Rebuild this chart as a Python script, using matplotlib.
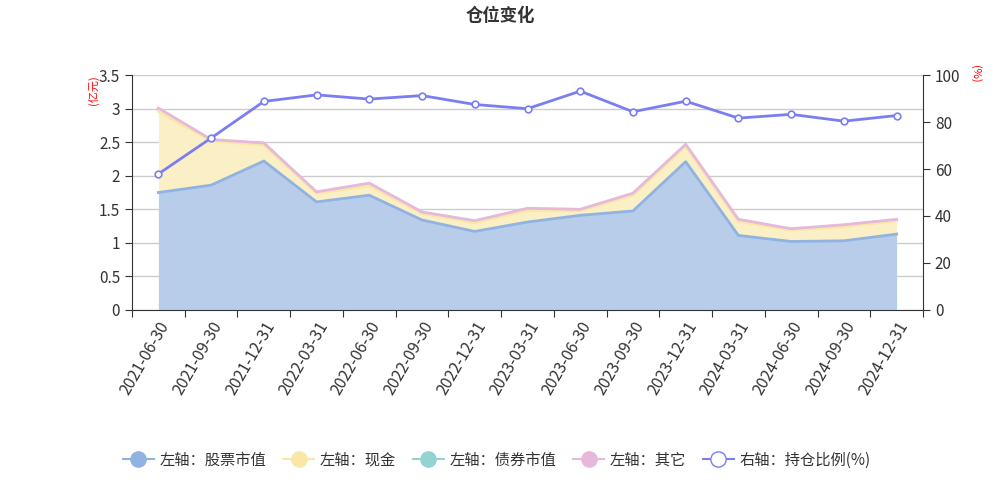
import matplotlib
matplotlib.use("Agg")
import matplotlib.pyplot as plt
from matplotlib.lines import Line2D
import numpy as np

plt.rcParams['font.family'] = ['Noto Sans CJK SC', 'DejaVu Sans']

dates = ["2021-06-30", "2021-09-30", "2021-12-31", "2022-03-31", "2022-06-30",
         "2022-09-30", "2022-12-31", "2023-03-31", "2023-06-30", "2023-09-30",
         "2023-12-31", "2024-03-31", "2024-06-30", "2024-09-30", "2024-12-31"]
stock = [1.75, 1.86, 2.22, 1.61, 1.71, 1.34, 1.17, 1.31, 1.41, 1.475, 2.21, 1.11, 1.02, 1.03, 1.13]
cash = [1.21, 0.66, 0.24, 0.13, 0.14, 0.10, 0.13, 0.17, 0.07, 0.235, 0.23, 0.21, 0.17, 0.21, 0.20]
bond = [0.0] * 15
other = [0.05, 0.02, 0.03, 0.02, 0.04, 0.02, 0.03, 0.035, 0.02, 0.03, 0.03, 0.03, 0.02, 0.03, 0.02]
ratio = [57.9, 73.2, 88.8, 91.6, 89.8, 91.3, 87.5, 85.7, 93.2, 84.4, 88.9, 81.7, 83.3, 80.4, 82.8]

c_stock_line = "#91b3e2"
c_stock_fill = "#b8cdea"
c_cash_line = "#f8e7a6"
c_cash_fill = "#fbf0c5"
c_bond = "#93d3d2"
c_other = "#e6b8da"
c_ratio = "#7a7ef2"

fig = plt.figure(figsize=(10, 4.88), dpi=100)
ax = fig.add_axes([0.132, 0.365, 0.791, 0.481])
ax2 = ax.twinx()

x = np.arange(len(dates))
s = np.array(stock)
c1 = s + np.array(cash)
c2 = c1 + np.array(bond)
c3 = c2 + np.array(other)

ax.fill_between(x, 0, s, color=c_stock_fill, lw=0, zorder=2)
ax.plot(x, s, color=c_stock_line, lw=2, zorder=3)
ax.fill_between(x, s, c1, color=c_cash_fill, lw=0, zorder=2)
ax.plot(x, c1, color=c_cash_line, lw=2, zorder=3)
ax.fill_between(x, c1, c2, color=c_bond, lw=0, zorder=2)
ax.fill_between(x, c2, c3, color="#f3dbe9", lw=0, zorder=2)
ax.plot(x, c3, color=c_other, lw=2, zorder=3)

ax.set_xlim(-0.5, len(dates) - 0.5)
ax.set_ylim(0, 3.5)
ax.set_yticks(np.arange(0, 3.51, 0.5))
ax.set_yticklabels(["0", "0.5", "1", "1.5", "2", "2.5", "3", "3.5"])
ax.yaxis.grid(True, color="#cccccc", lw=1, zorder=1)
ax.set_axisbelow(True)

ax.set_xticks(np.arange(-0.5, len(dates), 1.0))
ax.set_xticklabels([])
ax.set_xticks(x, minor=True)
ax.set_xticklabels(dates, minor=True, rotation=60, ha="right", va="top",
                   rotation_mode="anchor", fontsize=11.5, color="#333333")
ax.tick_params(axis="x", which="minor", length=0, pad=6)
ax.tick_params(axis="x", which="major", length=5, color="#333333", direction="out")
ax.tick_params(axis="y", length=5, color="#333333", labelsize=11, labelcolor="#333333")

ax2.plot(x, ratio, color=c_ratio, lw=2, marker="o", markersize=4.8,
         markerfacecolor="white", markeredgecolor=c_ratio, markeredgewidth=1.2, zorder=5)
ax2.set_ylim(0, 100)
ax2.set_yticks(np.arange(0, 101, 20))
ax2.tick_params(axis="y", length=5, color="#333333", labelsize=11, labelcolor="#333333")

for a in (ax, ax2):
    a.spines["top"].set_visible(False)
    a.spines["left"].set_color("#333333")
    a.spines["right"].set_color("#333333")
    a.spines["bottom"].set_color("#333333")
ax.spines["right"].set_visible(False)
ax2.spines["left"].set_visible(False)
ax2.spines["bottom"].set_visible(False)

fig.text(0.093, 0.815, "(亿元)", rotation=90, color="red", fontsize=8, ha="center", va="center")
fig.text(0.975, 0.848, "(%)", rotation=-90, color="red", fontsize=8, ha="center", va="center")

fig.text(0.5, 0.968, "仓位变化", ha="center", va="center", fontsize=12.5, fontweight="bold", color="#333333")

handles = [
    Line2D([0], [0], color=c_stock_line, lw=1.5, marker="o", markersize=11, markerfacecolor=c_stock_line, markeredgecolor=c_stock_line),
    Line2D([0], [0], color=c_cash_line, lw=1.5, marker="o", markersize=11, markerfacecolor=c_cash_line, markeredgecolor=c_cash_line),
    Line2D([0], [0], color=c_bond, lw=1.5, marker="o", markersize=11, markerfacecolor=c_bond, markeredgecolor=c_bond),
    Line2D([0], [0], color=c_other, lw=1.5, marker="o", markersize=11, markerfacecolor=c_other, markeredgecolor=c_other),
    Line2D([0], [0], color=c_ratio, lw=1.5, marker="o", markersize=11, markerfacecolor="white", markeredgecolor=c_ratio),
]
labels = ["左轴：股票市值", "左轴：现金", "左轴：债券市值", "左轴：其它", "右轴：持仓比例(%)"]
leg = fig.legend(handles, labels, loc="center", bbox_to_anchor=(0.497, 0.057), ncol=5,
                 frameon=False, fontsize=11, handlelength=2.0, handletextpad=0.4,
                 columnspacing=1.1, labelcolor="#333333")

fig.savefig("out.png", dpi=100)
